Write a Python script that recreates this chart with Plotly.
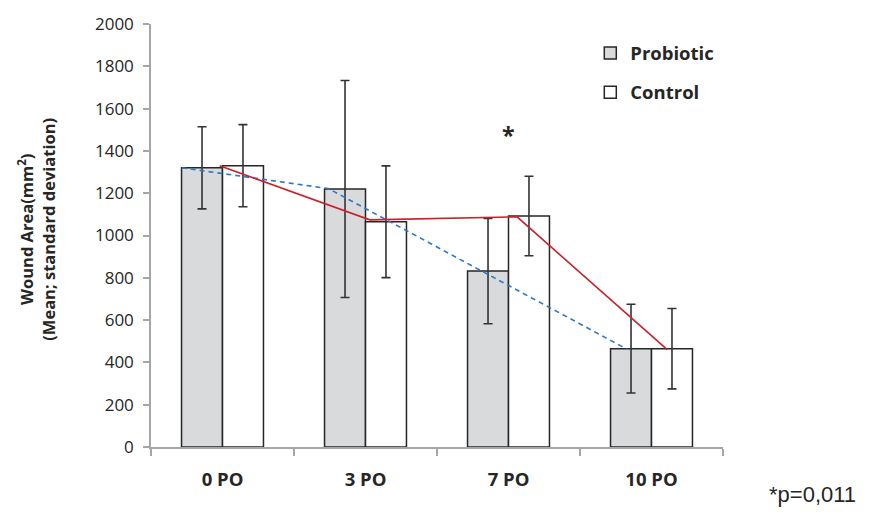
import plotly.graph_objects as go

categories = ["0 PO", "3 PO", "7 PO", "10 PO"]
probiotic = [1320, 1220, 832, 465]
probiotic_sd = [194, 513, 249, 210]
control = [1330, 1065, 1092, 465]
control_sd = [194, 264, 188, 190]

# hand-drawn trend lines (x in category units)
red_x = [-0.02, 1.03, 2.06, 3.11]
red_y = [1330, 1074, 1088, 460]
blue_x = [-0.285, 0.74, 2.83]
blue_y = [1320, 1222, 462]

pos = list(range(len(categories)))
FONT = "Open Sans"
DARK = "#262626"

fig = go.Figure()
fig.add_trace(go.Bar(
    x=pos, y=probiotic, name="Probiotic",
    marker=dict(color="#d9dadb", line=dict(color=DARK, width=1.5)),
    error_y=dict(type="data", array=probiotic_sd, color="#333333", thickness=1.6, width=4.5),
    legendgroup="a",
))
fig.add_trace(go.Bar(
    x=pos, y=control, name="Control",
    marker=dict(color="#ffffff", line=dict(color=DARK, width=1.5)),
    error_y=dict(type="data", array=control_sd, color="#333333", thickness=1.6, width=4.5),
    legendgroup="b",
))
fig.add_trace(go.Scatter(x=blue_x, y=blue_y, mode="lines", showlegend=False,
                         line=dict(color="#2f77c8", width=1.6, dash="5px,4px")))
fig.add_trace(go.Scatter(x=red_x, y=red_y, mode="lines", showlegend=False,
                         line=dict(color="#c9212b", width=1.6)))

fig.update_layout(
    width=872, height=512,
    margin=dict(l=151, r=149, t=19, b=65),
    plot_bgcolor="white", paper_bgcolor="white",
    barmode="group", bargap=0.427, bargroupgap=0,
    font=dict(family=FONT, color=DARK),
    legend=dict(x=0.768, y=0.975, xanchor="left", yanchor="top",
                font=dict(family=FONT, size=18.5, color=DARK, weight="bold"),
                tracegroupgap=12, bgcolor="rgba(0,0,0,0)", itemwidth=30),
    showlegend=True,
)
fig.update_xaxes(
    range=[-0.5, 3.5], tickmode="array", tickvals=pos, ticktext=categories,
    ticks="", showgrid=False, zeroline=False,
    showline=True, linecolor="#a6a6a6", linewidth=1.5,
    tickfont=dict(family=FONT, size=18.5, color=DARK, weight="bold"),
    ticklabelstandoff=15,
    minor=dict(tickmode="array", tickvals=[-0.5, 0.5, 1.5, 2.5, 3.5],
               ticks="outside", ticklen=7, tickcolor="#a6a6a6", tickwidth=1.5, showgrid=False),
)
fig.update_yaxes(
    range=[0, 2000], tickmode="array", tickvals=list(range(0, 2001, 200)),
    ticks="outside", ticklen=6, tickcolor="#a6a6a6", tickwidth=1.5,
    showgrid=False, zeroline=False,
    showline=True, linecolor="#a6a6a6", linewidth=1.5,
    tickfont=dict(family=FONT, size=17, color=DARK),
    ticklabelstandoff=6,
)

fig.add_annotation(
    xref="paper", yref="paper", x=-0.2, y=0.515, xanchor="center", yanchor="middle",
    text="<b>Wound Area(mm<sup>2</sup>)<br>(Mean; standard deviation)</b>",
    textangle=-90, showarrow=False, font=dict(family=FONT, size=16.5, color=DARK),
)
fig.add_annotation(
    x=2, y=1475, xref="x", yref="y", text="<b>*</b>", showarrow=False,
    font=dict(family=FONT, size=23, color=DARK),
)
fig.add_annotation(
    xref="paper", yref="paper", x=1.077, y=-0.113, xanchor="left", yanchor="middle",
    text="*p=0,011", showarrow=False,
    font=dict(family="Liberation Sans", size=22, color=DARK),
)

fig.write_html("out.html")
